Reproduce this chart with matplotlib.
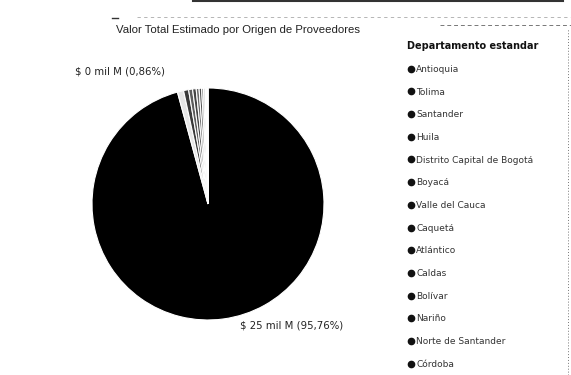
import matplotlib
matplotlib.use("Agg")
import matplotlib.pyplot as plt
from matplotlib.lines import Line2D
import numpy as np

departamentos = ["Antioquia", "Tolima", "Santander", "Huila",
                 "Distrito Capital de Bogotá", "Boyacá", "Valle del Cauca",
                 "Caquetá", "Atlántico", "Caldas", "Bolívar", "Nariño",
                 "Norte de Santander", "Córdoba"]
porcentajes = [95.76, 0.86, 0.70, 0.55, 0.50, 0.40, 0.35,
               0.25, 0.20, 0.15, 0.10, 0.08, 0.06, 0.04]
total_mil_m = 26.11
valores = [p * total_mil_m / 100 for p in porcentajes]

colores = ["#000000", "#e6e6e6", "#3a3a3a", "#5c5c5c", "#454545", "#6b6b6b",
           "#505050", "#777777", "#444444", "#666666", "#d8d8d8", "#e8e8e8",
           "#eeeeee", "#f2f2f2"]

plt.rcParams['font.family'] = ['Liberation Sans', 'DejaVu Sans']

fig = plt.figure(figsize=(5.71, 3.75), dpi=100)
ax = fig.add_axes([0.1611, 0.1467, 0.4063, 0.6187])

wedges, _ = ax.pie(valores, colors=colores, startangle=90, counterclock=False,
                   radius=1.0, wedgeprops=dict(edgecolor="white", linewidth=0.8))
ax.set_xlim(-1, 1)
ax.set_ylim(-1, 1)
ax.set_aspect("auto")
ax.axis("off")


def etiqueta(i):
    v = valores[i]
    p = porcentajes[i]
    return "$ {:.0f} mil M ({})".format(v, ("%.2f%%" % p).replace(".", ","))


# etiquetas de datos para los dos sectores rotulados
for i, dx, dy, ha in [(0, 12, -5, "left"), (1, -11, 14, "right")]:
    w = wedges[i]
    ang = np.deg2rad((w.theta1 + w.theta2) / 2)
    ax.annotate(etiqueta(i), xy=(np.cos(ang), np.sin(ang)),
                xytext=(dx, dy), textcoords="offset points",
                ha=ha, va="center", fontsize=7.3, color="#222222",
                family=["DejaVu Sans"])

fig.text(0.417, 0.921, "Valor Total Estimado por Origen de Proveedores",
         ha="center", va="center", fontsize=8.2, color="#222222")

handles = [Line2D([], [], marker="o", linestyle="none", color="#111111",
                  markersize=4.5) for _ in departamentos]
leg = fig.legend(handles, departamentos, loc="upper left",
                 bbox_to_anchor=(0.713, 0.89), frameon=False,
                 title="Departamento estandar", fontsize=6.5,
                 title_fontsize=7, labelspacing=1.515, handletextpad=0.1,
                 handlelength=0.9, borderaxespad=0, borderpad=0,
                 alignment="left", prop={"family": "DejaVu Sans", "size": 6.5})
leg.get_title().set_color("#111111")
leg.get_title().set_fontweight("bold")
leg.get_title().set_family("DejaVu Sans")
for t in leg.get_texts():
    t.set_color("#333333")

# marco del informe impreso
fig.add_artist(Line2D([0.24, 1.0], [0.955, 0.955], color="#aaaaaa",
                      linewidth=0.6, linestyle=(0, (4, 4))))
fig.add_artist(Line2D([0.77, 1.0], [0.933, 0.933], color="#777777",
                      linewidth=0.7, linestyle=(0, (4, 3))))
fig.add_artist(Line2D([0.338, 0.986], [0.997, 0.997], color="#333333",
                      linewidth=1.5))
fig.add_artist(Line2D([0.994, 0.994], [0.0, 0.925], color="#777777",
                      linewidth=0.7, linestyle=(0, (1, 2))))
fig.add_artist(Line2D([0.196, 0.207], [0.952, 0.952], color="#333333",
                      linewidth=1.0))

fig.savefig("out.png", dpi=100, facecolor="white")
